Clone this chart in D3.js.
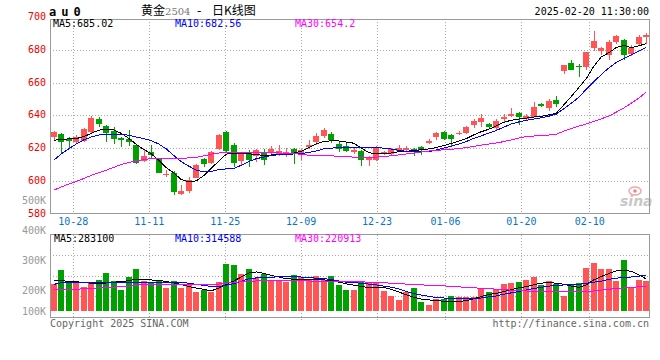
<!DOCTYPE html>
<html>
<head>
<meta charset="utf-8">
<script src="https://cdn.jsdelivr.net/npm/d3@7"></script>
<style>
  body { margin: 0; background: #fff; }
  text { font-family: "DejaVu Sans Mono", monospace; font-size: 10px; }
</style>
</head>
<body>
<svg width="660" height="360"></svg>
<script>
const svg = d3.select("svg");

// DATA
const dates = [
  "10-23","10-24","10-25","10-28","10-29","10-30","10-31","11-01","11-04","11-05",
  "11-06","11-07","11-08","11-11","11-12","11-13","11-14","11-15","11-18","11-19",
  "11-20","11-21","11-22","11-25","11-26","11-27","11-28","11-29","12-02","12-03",
  "12-04","12-05","12-06","12-09","12-10","12-11","12-12","12-13","12-16","12-17",
  "12-18","12-19","12-20","12-23","12-24","12-25","12-26","12-27","12-30","12-31",
  "01-02","01-03","01-06","01-07","01-08","01-09","01-10","01-13","01-14","01-15",
  "01-16","01-17","01-20","01-21","01-22","01-23","01-24","01-27","02-05","02-06",
  "02-07","02-10","02-11","02-12","02-13","02-14","02-17","02-18","02-19","02-20"
];

const opens = [
  626.6,628.4,625.6,623.9,624.5,629.6,637.7,633.5,630.4,626.0,
  625.4,621.9,612.4,617.8,613.2,603.8,605.0,592.1,593.5,602.0,
  613.2,611.1,619.5,629.7,622.0,612.3,617.3,614.9,617.9,617.0,
  616.3,615.5,619.6,615.9,620.4,624.0,627.1,628.7,622.6,621.4,
  617.6,618.4,612.5,612.9,617.0,616.5,618.5,619.0,619.4,620.4,
  623.0,626.5,629.7,628.1,628.5,629.1,634.2,636.0,634.8,632.5,
  637.7,639.8,641.3,637.9,639.2,647.0,644.3,649.4,667.2,672.1,
  670.1,669.7,681.2,679.4,676.8,684.9,686.3,677.8,683.5,687.9
];
const highs = [
  630.3,629.0,627.0,628.0,632.0,639.6,639.1,634.1,632.7,627.0,
  631.0,622.3,618.9,621.9,614.0,606.7,605.7,597.6,602.6,610.5,
  613.8,618.5,628.6,630.7,623.4,617.9,619.0,619.6,619.6,621.0,
  621.6,620.0,620.0,619.6,625.0,629.1,632.2,629.7,623.7,623.0,
  620.4,619.0,615.3,621.0,618.5,620.0,621.6,621.0,620.0,621.0,
  625.7,630.1,630.7,628.8,630.5,633.3,637.7,641.0,635.6,637.7,
  640.7,644.3,641.8,640.7,648.0,647.8,650.0,652.0,671.0,673.7,
  671.3,679.0,691.6,681.8,686.2,689.0,687.0,682.9,689.4,690.6
];
const lows = [
  625.0,616.9,619.9,622.9,624.0,629.3,632.7,623.9,622.5,620.9,
  621.3,610.3,611.8,613.8,604.5,602.2,591.5,591.5,592.5,601.5,
  608.3,610.5,619.0,617.9,608.4,609.2,608.2,611.2,609.8,614.9,
  614.9,614.3,610.4,612.5,619.6,622.0,626.1,623.0,617.6,617.9,
  616.5,608.8,609.2,612.3,616.0,615.5,617.9,617.9,615.3,615.9,
  622.6,625.0,625.0,620.5,628.0,628.5,632.5,633.0,631.6,630.7,
  636.2,639.2,634.0,637.2,638.9,645.0,642.7,645.3,665.2,667.5,
  663.6,668.0,679.4,677.2,673.7,683.9,674.1,676.4,682.9,683.9
];
const closes = [
  629.7,623.9,624.5,626.6,631.5,638.2,634.7,629.0,625.4,625.0,
  623.6,611.1,615.2,615.8,605.0,604.2,592.9,593.5,600.6,609.7,
  610.3,617.6,628.0,618.5,610.9,617.0,612.9,619.0,612.9,619.6,
  618.4,617.9,616.3,619.0,621.6,627.1,631.1,625.0,619.4,618.5,
  619.0,612.9,614.3,620.6,617.9,619.4,620.0,620.0,617.9,619.0,
  624.6,629.5,625.7,625.7,629.5,632.8,636.8,638.4,632.8,636.4,
  639.2,640.9,639.2,639.8,645.3,645.9,648.8,647.0,670.7,667.7,
  669.3,678.8,685.5,681.2,684.6,688.4,676.8,681.2,687.9,689.0
];

const ma5 = [
  624.8,625.4,625.6,625.8,627.0,629.0,631.0,631.6,631.2,629.0,
  626.0,622.3,619.2,616.5,612.5,608.0,604.8,600.8,599.4,600.0,
  603.2,607.7,612.0,616.3,616.9,616.9,616.6,616.0,615.5,615.8,
  616.2,616.5,617.0,618.0,620.3,622.5,624.0,624.5,624.4,623.7,
  623.0,620.0,617.3,616.4,616.6,617.0,617.8,618.1,618.5,619.0,
  619.5,620.3,621.6,622.8,624.2,625.8,628.1,630.0,631.5,633.5,
  635.8,637.0,637.8,638.3,639.0,639.4,640.3,641.3,646.4,651.5,
  657.0,662.5,670.0,675.8,678.3,681.5,682.8,681.5,682.5,684.0
];
const ma10 = [
  612.5,616.5,619.5,622.5,625.0,626.8,628.0,628.5,628.6,628.5,
  627.8,626.8,625.8,624.5,622.5,619.5,615.5,611.7,609.0,606.5,
  605.5,605.8,606.8,607.3,607.6,609.5,611.8,613.5,614.5,615.4,
  616.0,616.3,616.4,616.7,617.3,618.3,619.5,620.0,620.3,620.5,
  620.4,620.4,620.4,620.3,620.0,619.4,618.6,618.0,617.6,617.7,
  617.9,618.8,620.0,621.2,622.5,624.0,626.0,627.5,629.2,630.8,
  632.8,634.8,636.0,637.0,637.8,638.5,639.5,640.8,644.0,647.5,
  651.0,656.0,660.5,665.0,669.0,672.3,674.8,677.0,679.2,681.5
];
const ma30 = [
  594.3,596.2,598.0,599.6,601.4,603.3,605.0,606.5,608.2,610.0,
  611.2,612.2,613.1,613.5,613.7,613.8,613.8,613.8,614.0,614.3,
  615.2,616.3,617.0,617.4,617.5,617.5,617.4,617.3,617.3,617.2,
  617.0,616.9,616.6,616.2,615.6,615.2,615.2,615.2,615.1,614.7,
  614.5,614.5,614.5,614.5,614.8,615.3,615.8,616.4,617.0,617.6,
  618.2,618.6,619.0,619.3,619.7,620.3,621.0,621.8,622.5,623.1,
  624.0,625.0,626.2,627.0,627.4,627.7,628.0,628.5,630.3,632.0,
  633.4,634.8,636.3,637.9,639.6,642.0,644.5,647.5,650.6,654.2
];

const volumes = [
  236000,362000,244000,244000,215000,250000,274000,339000,265000,186000,
  303000,374000,268000,250000,268000,206000,265000,206000,230000,171000,
  186000,171000,259000,415000,406000,327000,374000,295000,324000,265000,
  265000,253000,318000,303000,274000,312000,274000,312000,230000,186000,
  186000,253000,259000,253000,180000,135000,97000,165000,206000,82000,
  53000,106000,106000,133000,127000,127000,127000,191000,171000,194000,
  239000,250000,259000,274000,297000,230000,265000,236000,135000,239000,
  250000,383000,427000,368000,371000,265000,451000,206000,274000,268000
];
const volMa5 = [
  265,270,259,259,252,245,240,248,255,258,
  268,280,275,274,272,260,248,234,216,203,
  192,178,203,235,265,300,335,345,333,315,
  300,286,280,276,274,274,274,272,255,240,
  228,218,207,206,209,190,168,143,122,105,
  98,91,87,84,82,92,108,128,145,156,
  172,188,205,215,232,245,253,245,236,220,
  209,230,275,305,330,355,362,350,320,283.1
];
const volMa10 = [
  235,250,253,253,253,253,253,253,253,253,
  253,253,254,254,254,253,253,252,246,236,
  225,218,215,228,242,262,285,292,295,298,
  302,303,303,300,295,290,285,280,265,255,
  250,245,238,230,220,210,195,172,155,141,
  130,119,115,110,107,106,108,115,125,133,
  148,160,172,186,198,210,220,226,230,233,
  236,245,255,262,280,290,296,300,308,314.6
];
const volMa30 = [
  186,188,190,192,196,200,204,208,211,214,
  218,227,233,238,238,237,236,236,236,236,
  236,236,238,245,253,258,263,265,265,265,
  265,265,265,265,265,264,263,262,261,260,
  259,257,255,252,249,246,242,238,235,231,
  227,224,222,218,213,209,205,201,197,193,
  189,184,180,177,174,172,171,171,171,171,
  172,174,177,185,192,198,203,208,214,220.9
];

const priceTicks = [580, 600, 620, 640, 660, 680, 700];
const priceGrid = [600, 620, 640, 660, 680];
const volTickValues = [500000, 400000, 300000, 200000, 100000];
const dateTicks = ["10-28","11-11","11-25","12-09","12-23","01-06","01-20","02-10"];
const priceMaLegend = ["685.02", "682.56", "654.2"];
const volMaLegend = ["283100", "314588", "220913"];

// CONSTANTS
const left = 50, right = 650;
const priceTop = 19, priceBottom = 213.5;
const volTop = 235, volBottom = 318;
const upColor = "#ff5555", downColor = "#00a000";
const maColors = ["#000000", "#0000ff", "#ff00ff"];
const gridColor = "#aaaaaa", frameColor = "#999999";

// Accessors
const isUp = i => closes[i] >= opens[i];
const candleColor = i => (isUp(i) ? upColor : downColor);

// SCALES
const x = d3.scaleBand().domain(dates).range([left, right]).paddingInner(0.2).paddingOuter(0.1);
// date marks sit on a slightly wider step than the candles
const xGrid = d3.scalePoint().domain(dates).range([left, right]);
const y = d3.scaleLinear().domain([580, 700]).range([213.5, 17.3]);
const yVol = d3.scaleLinear().domain([0, 680000]).range([311, 234]);
const yVolLabel = d3.scaleLinear().domain([100000, 200000, 500000]).range([311, 290.5, 200.5]);
const cx = i => x(dates[i]) + x.bandwidth() / 2;

// clip paths
const defs = svg.append("defs");
defs.append("clipPath").attr("id", "clipPrice")
  .append("rect").attr("x", left).attr("y", priceTop).attr("width", right - left).attr("height", priceBottom - priceTop);
defs.append("clipPath").attr("id", "clipVol")
  .append("rect").attr("x", left).attr("y", volTop).attr("width", right - left).attr("height", volBottom - volTop);

// GRID
const grid = svg.append("g")
  .attr("stroke", gridColor).attr("stroke-dasharray", "1,2").attr("shape-rendering", "crispEdges");

grid.selectAll(".hp").data(priceGrid).enter().append("line")
  .attr("x1", left).attr("x2", right)
  .attr("y1", d => Math.round(y(d)) + 0.5).attr("y2", d => Math.round(y(d)) + 0.5);

grid.selectAll(".hv").data(d3.range(1, 4)).enter().append("line")
  .attr("x1", left).attr("x2", right)
  .attr("y1", k => Math.round(volTop + k * 20.3) + 0.5).attr("y2", k => Math.round(volTop + k * 20.3) + 0.5);

grid.selectAll(".vp").data(dateTicks).enter().append("line")
  .attr("x1", d => Math.round(xGrid(d)) + 0.5).attr("x2", d => Math.round(xGrid(d)) + 0.5)
  .attr("y1", priceTop).attr("y2", priceBottom);

grid.selectAll(".vv").data(dateTicks).enter().append("line")
  .attr("x1", d => Math.round(xGrid(d)) + 0.5).attr("x2", d => Math.round(xGrid(d)) + 0.5)
  .attr("y1", volTop).attr("y2", volBottom + 2);

// sina watermark
const mark = svg.append("g").attr("transform", "translate(619,186)");
mark.append("ellipse").attr("cx", 16).attr("cy", 5).attr("rx", 6).attr("ry", 4)
  .attr("fill", "none").attr("stroke", "#f2a8a8").attr("stroke-width", 1.5);
mark.append("circle").attr("cx", 16).attr("cy", 5).attr("r", 1.8).attr("fill", "#e88");
mark.append("text").attr("x", 1).attr("y", 20)
  .style("font-family", "DejaVu Sans").style("font-size", "14px")
  .style("font-style", "italic").style("font-weight", "bold")
  .attr("fill", "#c8c8c8").text("sina");

// CANDLES
const candles = svg.append("g").attr("clip-path", "url(#clipPrice)").attr("shape-rendering", "crispEdges");
const idx = d3.range(dates.length);

candles.selectAll(".wick").data(idx).enter().append("line")
  .attr("x1", i => Math.round(cx(i)) + 0.5).attr("x2", i => Math.round(cx(i)) + 0.5)
  .attr("y1", i => y(highs[i])).attr("y2", i => y(lows[i]))
  .attr("stroke", candleColor);

candles.selectAll(".body").data(idx).enter().append("rect")
  .attr("x", i => Math.round(x(dates[i])))
  .attr("width", x.bandwidth())
  .attr("y", i => y(Math.max(opens[i], closes[i])))
  .attr("height", i => Math.max(1, Math.abs(y(opens[i]) - y(closes[i]))))
  .attr("fill", candleColor);

// price moving averages
const priceLine = d3.line().x((d, i) => cx(i)).y(d => y(d));
candles.selectAll(".ma").data([ma5, ma10, ma30]).enter().append("path")
  .attr("d", priceLine)
  .attr("fill", "none")
  .attr("stroke", (d, k) => maColors[k]);

// VOLUME
const vol = svg.append("g").attr("clip-path", "url(#clipVol)").attr("shape-rendering", "crispEdges");
vol.selectAll("rect").data(idx).enter().append("rect")
  .attr("x", i => Math.round(x(dates[i])))
  .attr("width", x.bandwidth())
  .attr("y", i => yVol(volumes[i]))
  .attr("height", i => yVol(0) - yVol(volumes[i]))
  .attr("fill", candleColor);

const volLine = d3.line().x((d, i) => cx(i)).y(d => yVol(d * 1000));
vol.selectAll(".ma").data([volMa5, volMa10, volMa30]).enter().append("path")
  .attr("d", volLine)
  .attr("fill", "none")
  .attr("stroke", (d, k) => maColors[k]);

// FRAMES
const frames = svg.append("g").attr("fill", "none").attr("stroke", frameColor).attr("shape-rendering", "crispEdges");
frames.append("rect").attr("x", left + 0.5).attr("y", priceTop + 0.5)
  .attr("width", right - left - 1).attr("height", priceBottom - priceTop - 0.5);
frames.append("rect").attr("x", left + 0.5).attr("y", volTop - 0.5)
  .attr("width", right - left - 1).attr("height", volBottom - volTop);

// AXES
const priceAxis = svg.append("g")
  .attr("transform", `translate(${left},0)`)
  .call(d3.axisLeft(y).tickValues(priceTicks).tickSize(0).tickPadding(4).tickFormat(d3.format("d")));
priceAxis.select(".domain").remove();
priceAxis.selectAll("text")
  .attr("dy", "0.25em")
  .attr("fill", "#ee0000")
  .style("font-family", "DejaVu Sans Mono").style("font-size", "10px");

const volAxis = svg.append("g")
  .attr("transform", `translate(${left},0)`)
  .call(d3.axisLeft(yVolLabel).tickValues(volTickValues).tickSize(0).tickPadding(4).tickFormat(d => d / 1000 + "K"));
volAxis.select(".domain").remove();
volAxis.selectAll("text")
  .attr("dy", "0.3em")
  .attr("fill", "#999999")
  .style("font-family", "DejaVu Sans Mono").style("font-size", "10px");

const dateAxis = svg.append("g")
  .attr("transform", `translate(0,${priceBottom})`)
  .call(d3.axisBottom(xGrid).tickValues(dateTicks).tickSize(0).tickPadding(4));
dateAxis.select(".domain").remove();
dateAxis.selectAll("text")
  .attr("fill", "#0a74c4")
  .style("font-family", "DejaVu Sans Mono").style("font-size", "10px");

// LEGENDS
const legendX = [53, 175, 295];
svg.selectAll(".pleg").data(priceMaLegend).enter().append("text")
  .attr("x", (d, k) => legendX[k]).attr("y", 27)
  .attr("fill", (d, k) => maColors[k])
  .text((d, k) => `MA${[5, 10, 30][k]}:${d}`);

svg.selectAll(".vleg").data(volMaLegend).enter().append("text")
  .attr("x", (d, k) => legendX[k] + (k === 0 ? 1 : 0)).attr("y", 242)
  .attr("fill", (d, k) => maColors[k])
  .text((d, k) => `MA${[5, 10, 30][k]}:${d}`);

// TITLES
svg.append("text").attr("x", 49).attr("y", 16)
  .style("font-size", "12px").style("font-weight", "bold").style("letter-spacing", "5px")
  .text("au0");

const title = svg.append("text").attr("y", 15)
  .style("font-family", "'Noto Sans CJK SC', sans-serif").style("font-size", "12px");
title.append("tspan").attr("x", 141).attr("fill", "#000").text("黄金");
title.append("tspan").attr("fill", "#777").style("font-family", "'DejaVu Serif', serif")
  .style("font-size", "10px").text("2504");
title.append("tspan").attr("x", 197).attr("fill", "#000")
  .style("font-family", "'DejaVu Sans', sans-serif").text("-");
title.append("tspan").attr("x", 212).attr("fill", "#000").text("日K线图");

svg.append("text").attr("x", 649).attr("y", 15).attr("text-anchor", "end")
  .attr("fill", "#000").text("2025-02-20 11:30:00");

svg.append("text").attr("x", 50).attr("y", 327).attr("fill", "#666").text("Copyright 2025 SINA.COM");
svg.append("text").attr("x", 649).attr("y", 327).attr("text-anchor", "end").attr("fill", "#666")
  .text("http://finance.sina.com.cn");
</script>
</body>
</html>
